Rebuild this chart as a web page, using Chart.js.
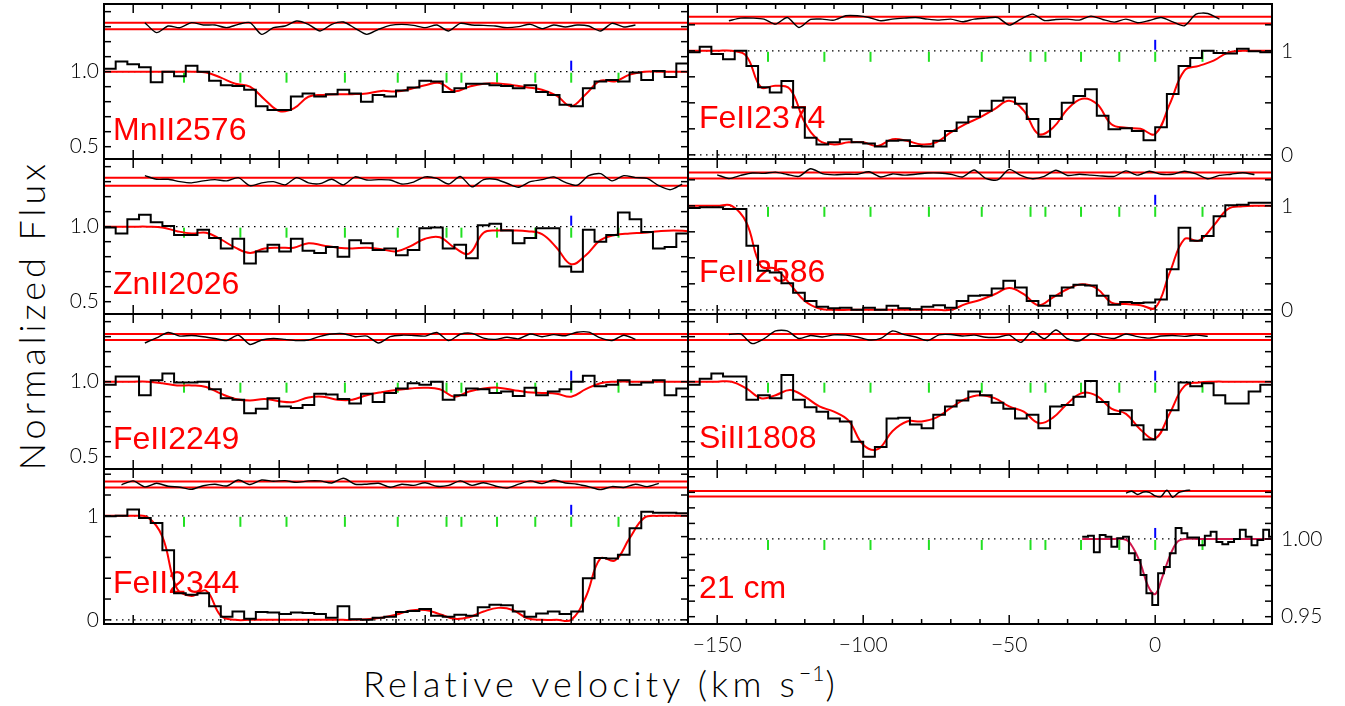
<!DOCTYPE html>
<html>
<head>
<meta charset="utf-8">
<script src="https://cdn.jsdelivr.net/npm/chart.js@4.4.1/dist/chart.umd.min.js"></script>
<style>
  body { margin: 0; background: #fff; width: 1345px; height: 706px; overflow: hidden; position: relative; }
  canvas { position: absolute; }
  .title { position: absolute; font-family: Lato, "DejaVu Sans", sans-serif; font-weight: 300; color: #000; white-space: nowrap; }
  #ytitle { left: 31px; top: 315px; font-size: 36px; letter-spacing: 4px; transform: translate(-50%, -50%) rotate(-90deg); }
  #xtitle { left: 601px; top: 660px; font-size: 36px; letter-spacing: 4.2px; transform: translateX(-50%); }
  #xtitle sup { font-size: 21px; vertical-align: 0.75em; letter-spacing: 1px; }
</style>
</head>
<body>
<div class="title" id="ytitle">Normalized Flux</div>
<div class="title" id="xtitle">Relative velocity (km s<sup>&minus;1</sup>)</div>
<script>
// velocity grids (km/s)
const velBins = [-158,-154,-150,-146,-142,-138,-134,-130,-126,-122,-118,-114,-110,-106,-102,-98,-94,-90,-86,-82,
  -78,-74,-70,-66,-62,-58,-54,-50,-46,-42,-38,-34,-30,-26,-22,-18,-14,-10,-6,-2,2,6,10,14,18,22,26,30,34,38];
const velModel = [-160,-155,-150,-145,-140,-135,-130,-125,-120,-115,-110,-105,-100,-95,-90,-85,-80,-75,-70,-65,
  -60,-55,-50,-45,-40,-35,-30,-25,-20,-15,-10,-5,0,5,10,15,20,25,30,35,40];
const vel21 = [-24,-22,-20,-18,-16,-14,-12,-10,-8,-6,-4,-2,0,2,4,6,8,10,12,14,16,18,20,22,24,26,28,30,32,34,36,38,40];
const velModel21 = [-25,-20,-15,-10,-7.5,-5,-2.5,0,2.5,5,7.5,10,15,20,25,30,35,40];

// component positions (green) and reference velocity (blue)
const compVel = [-132.6,-113.3,-97.5,-77.5,-59.4,-42.7,-37.6,-25.4,-12.3,0,16.2];
const refVel = [0];

// MnII2576
const fluxMn = [1.02,1.067,1.05,1.03,0.93,1.0,0.97,1.04,1.0,0.94, 0.91,0.905,0.88,0.77,0.745,0.745,0.835,0.855,0.835,0.85,
  0.88,0.855,0.8,0.845,0.835,0.875,0.895,0.94,0.935,0.865, 0.89,0.92,0.92,0.91,0.905,0.89,0.91,0.865,0.845,0.78,
  0.77,0.89,0.935,0.945,0.935,0.995,0.945,1.005,0.965,1.055];
const modelMn = [1,1,1,1,1,1,1,0.995,0.96,0.92, 0.9,0.815,0.738,0.755,0.833,0.845,0.85,0.85,0.855,0.872,
  0.868,0.885,0.91,0.925,0.87,0.9,0.92,0.922,0.91,0.895, 0.88,0.84,0.77,0.85,0.94,0.935,0.98,1,1,1,1];
const residMn = [null,null,null,1.0,-2.0,0,-0.5,1.0,0.3,0.3, -0.5,0.5,1.0,-2.5,-0.5,0,1.5,0.5,-1.5,0.5,
  1.2,-0.7,-2.5,-1.0,0.2,0.5,0.2,-0.5,0.3,-1.5, 0.8,0.3,0.2,0,-0.5,-0.2,0.5,-0.8,0.3,-0.3,
  0.3,0,-1.5,0.8,-0.3,0.3,null,null,null,null];

// ZnII2026
const fluxZn = [0.995,0.955,1.05,1.08,1.03,1.005,0.945,0.945,0.98,0.925, 0.855,0.92,0.755,0.835,0.88,0.835,0.92,0.84,0.825,0.865,
  0.8,0.91,0.89,0.845,0.855,0.81,0.845,0.99,0.995,0.855, 0.88,0.79,1.01,1.02,0.975,0.89,0.925,0.99,0.99,0.735,
  0.7,0.98,0.9,0.945,1.095,1.05,0.965,0.855,0.865,0.955];
const modelZn = [1,1,1,1,0.995,0.97,0.955,0.96,0.915,0.86, 0.825,0.855,0.86,0.86,0.89,0.875,0.86,0.855,0.86,0.85,
  0.835,0.87,0.92,0.93,0.86,0.82,0.96,0.975,0.975,0.97, 0.95,0.86,0.75,0.81,0.91,0.945,0.955,0.96,0.97,0.975,0.97];
const residZn = [null,null,null,1.5,0.6,0.6,0,-0.3,0.2,0.5, 0.2,1.0,-1.0,-0.3,0,-0.8,1.0,-0.3,-0.5,0.6,
  -0.8,1.2,0.4,0.5,0.4,-0.6,-0.1,1.2,0.8,-0.6, 1.3,-1.3,0.5,0.6,-0.4,-1.4,0,0.5,1.2,-0.2,
  -0.9,1.5,2.0,0.2,1.5,1.0,0.8,-1.0,-2.0,-0.6];

// FeII2249
const fluxFe2249 = [0.98,1.035,1.035,0.91,1.01,1.055,0.995,0.995,1.0,0.95, 0.89,0.88,0.79,0.82,0.89,0.835,0.825,0.845,0.92,0.915,
  0.885,0.855,0.92,0.865,0.925,0.955,0.99,0.98,1.0,0.88, 0.91,0.955,0.95,0.925,0.935,0.905,0.96,0.91,0.935,0.95,
  1.0,1.04,0.97,0.98,1.01,0.98,0.995,1.01,0.91,0.955];
const modelFe2249 = [1,1,1,1,0.99,0.975,0.975,0.965,0.92,0.885, 0.875,0.885,0.87,0.865,0.895,0.9,0.88,0.88,0.91,0.93,
  0.945,0.955,0.96,0.95,0.9,0.935,0.955,0.96,0.945,0.93, 0.925,0.92,0.9,0.95,0.99,1,1,1,1,1,1];
const residFe2249 = [null,null,null,-2.0,-0.3,1.5,0.3,0.5,0.1,-0.5, -1.2,0.6,-2.5,-1.0,-0.5,-0.8,-1.2,-1.0,0.2,1.0,
  1.1,0.1,0.3,-2.0,0.1,0.6,0.5,0.3,1.5,-1.2, 0.9,1.2,-0.4,-0.8,-0.1,-0.6,1.0,0.1,0.8,0.4,
  1.6,1.6,-0.3,-1.2,0.6,-0.8,null,null,null,null];

// FeII2344
const fluxFe2344 = [0.995,1.0,1.06,0.98,0.93,0.67,0.255,0.24,0.255,0.13, 0.03,0.08,0.01,0.075,0.07,0.055,0.07,0.065,0.055,0.02,
  0.13,0.005,0.0,0.02,0.03,0.075,0.085,0.105,0.04,0.03, 0.05,0.04,0.12,0.145,0.14,0.08,0.03,0.06,0.08,0.055,
  0.08,0.4,0.595,0.59,0.625,0.88,1.04,1.03,1.03,1.025];
const modelFe2344 = [1,1,1,0.985,0.8,0.3,0.23,0.28,0.04,0, 0,0,0,0,0,0,0,0,0.005,0.02,
  0.05,0.09,0.095,0.055,0.01,0.025,0.08,0.115,0.095,0.015, 0,0,0,0.22,0.59,0.57,0.785,0.98,1,1,1];
const residFe2344 = [null,-0.1,1.2,-0.8,0.4,-0.6,-0.9,-1.6,-0.4,0.1, -0.5,1.5,0,1.5,1.1,1.3,0.7,1.2,1.2,0.5,
  2.1,0.1,0.1,0.4,-0.9,0.1,-0.3,0.6,-0.6,-0.3, 1.2,-0.3,0.6,-0.5,-1.2,0.1,1.2,0.3,1.5,0.5,
  0.1,-0.7,-1.7,-0.7,-1.0,0.1,-0.7,0.4,null,null];

// FeII2374
const fluxFe2374 = [0.985,1.04,0.97,0.92,1.0,0.855,0.65,0.6,0.71,0.455, 0.165,0.1,0.12,0.15,0.12,0.11,0.08,0.135,0.14,0.085,
  0.08,0.135,0.23,0.31,0.365,0.425,0.52,0.55,0.49,0.345, 0.175,0.345,0.5,0.565,0.63,0.375,0.245,0.255,0.23,0.14,
  0.265,0.585,0.855,0.93,1.0,0.98,0.975,1.02,0.995,0.985];
const modelFe2374 = [1,1,1,1,0.95,0.65,0.665,0.63,0.31,0.135, 0.1,0.12,0.12,0.085,0.15,0.135,0.1,0.12,0.215,0.295,
  0.36,0.44,0.52,0.425,0.2,0.26,0.44,0.54,0.49,0.295, 0.26,0.25,0.2,0.49,0.81,0.855,0.905,0.985,1,1,1];
const residFe2374 = [null,null,null,-0.2,0.6,0.6,0.3,-1.2,0.8,-2.2, 0.2,0.3,0,1.3,1.3,0.8,-0.2,0.3,0.6,0.8,
  0.3,0,0.3,-0.5,0.3,0.6,0.8,-1.5,0.3,1.8, -0.1,0.2,0.3,0,1.2,0.2,-0.6,0.3,-0.8,-0.1,
  0.8,-0.5,-1.7,1.8,2.0,0.3,null,null,null,null];

// FeII2586
const fluxFe2586 = [0.98,0.985,0.985,0.97,0.97,0.615,0.375,0.36,0.255,0.165, 0.085,0.03,0.015,0.02,0.0,0.02,0.0,0.04,0.015,0.005,
  0.03,0.045,0.02,0.085,0.135,0.14,0.205,0.28,0.215,0.085, 0.04,0.135,0.215,0.24,0.235,0.135,0.05,0.075,0.065,0.07,
  0.1,0.39,0.79,0.665,0.71,0.9,1.005,1.01,1.03,1.03];
const modelFe2586 = [1,1,1,1,0.84,0.42,0.395,0.245,0.085,0.013, 0,0,0,0,0,0,0,0,0,0.055,
  0.095,0.15,0.21,0.15,0.045,0.12,0.2,0.245,0.205,0.07, 0.055,0.045,0.02,0.36,0.68,0.665,0.81,0.97,0.995,1,1];
const residFe2586 = [null,null,0.2,-1.0,0,0.8,0.7,1.1,0.3,-0.3, 2.2,0.6,0.2,0.4,0.4,1.2,-0.5,0.5,0.1,0.4,
  0.8,0.8,0.4,-0.5,1.8,-1.0,-1.5,2.0,0,-1.1, -0.3,1.7,0,0.4,0.1,-0.2,-0.3,1.5,0.1,1.4,
  0.4,0.4,1.4,0.5,-1.1,0,0.4,0.9,0.3,null];

// SiII1808
const fluxSi = [0.98,1.02,1.055,1.035,1.035,0.88,0.91,0.89,1.045,0.88, 0.83,0.8,0.755,0.735,0.6,0.5,0.565,0.755,0.76,0.715,
  0.69,0.78,0.835,0.875,0.935,0.91,0.86,0.82,0.755,0.78, 0.69,0.835,0.845,0.9,1.005,0.865,0.785,0.81,0.71,0.615,
  0.68,0.81,0.995,0.97,0.99,0.91,0.855,0.855,0.935,0.98];
const modelSi = [1,1,1,1,0.955,0.89,0.91,0.945,0.9,0.835, 0.8,0.74,0.58,0.55,0.67,0.735,0.735,0.76,0.825,0.885,
  0.91,0.89,0.835,0.8,0.725,0.76,0.855,0.925,0.905,0.82, 0.785,0.68,0.62,0.79,0.97,0.995,1,1,1,1,1];
const residSi = [null,null,null,0.8,1.0,-2.2,-0.6,2.0,2.0,-0.5, 0.5,0,0.7,0.6,0,-1.0,-0.5,2.0,0.8,0,
  -1.2,0.7,0.8,0.3,0.6,-0.1,-0.1,0.6,-1.8,1.8, -0.6,2.3,-0.6,-1.3,1.0,0,-0.5,1.0,0.1,-0.4,
  0.3,0.5,0.2,0.6,0.2,null,null,null,null,null];

// 21 cm
const flux21 = [1.0015,1.002,0.9914,1.0026,1.0015,0.995,1.0004,1.0015,0.9908,0.9865,0.9768,0.965,0.9575,0.978,0.982,0.9908,
  1.007,1.0036,1.001,1.001,0.996,1.002,1.0047,0.998,0.9966,0.998,1.0,1.006,1.0015,0.996,0.9994,1.006,1.0015];
const model21 = [1,1,1,0.9995,0.994,0.984,0.97,0.9645,0.976,0.989,0.998,1,1,1,1,1,1,1];
const resid21 = [null,null,null,null,null,null,null,0.2,0.9,-0.3,0.6,0.5,-0.8,-1.0,1.3,-1.3,0.4,1.0,1.3,
  null,null,null,null,null,null,null,null,null,null,null,null,null,null];

// tick labels
const xTickVals = [-150,-100,-50,0];
const xTickText = ['\u2212150','\u2212100','\u221250','0'];
const yTickA = [1.0, 0.5], yTextA = ['1.0','0.5'];
const yTickB = [1, 0], yTextB = ['1','0'];
const yTick21 = [1.00, 0.95], yText21 = ['1.00','0.95'];

// layout
const colLeft = [104, 688];
const rowTop = [4, 159, 314, 469];
const panelW = 584, panelH = 155;
const PAD = {left: 70, right: 70, top: 12, bottom: 48};
const rangeA = [0.418, 1.451], rangeB = [-0.04, 1.45], range21 = [0.9453, 1.045];

const panels = [
  {name:'MnII2576', col:0, row:0, v:velBins, flux:fluxMn, vm:velModel, model:modelMn, resid:residMn,
   yr:rangeA, step:0.1, left:[yTickA,yTextA], right:null, zero:false, res:[1.3044,0.0222], labelDy:136},
  {name:'ZnII2026', col:0, row:1, v:velBins, flux:fluxZn, vm:velModel, model:modelZn, resid:residZn,
   yr:rangeA, step:0.1, left:[yTickA,yTextA], right:null, zero:false, res:[1.30,0.0267], labelDy:135},
  {name:'FeII2249', col:0, row:2, v:velBins, flux:fluxFe2249, vm:velModel, model:modelFe2249, resid:residFe2249,
   yr:rangeA, step:0.1, left:[yTickA,yTextA], right:null, zero:false, res:[1.2978,0.02], labelDy:135},
  {name:'FeII2344', col:0, row:3, v:velBins, flux:fluxFe2344, vm:velModel, model:modelFe2344, resid:residFe2344,
   yr:rangeB, step:0.2, left:[yTickB,yTextB], right:null, zero:true, res:[1.301,0.0288], labelDy:124},
  {name:'FeII2374', col:1, row:0, v:velBins, flux:fluxFe2374, vm:velModel, model:modelFe2374, resid:residFe2374,
   yr:rangeB, step:0.25, left:null, right:[yTickB,yTextB], zero:true, res:[1.295,0.032], labelDy:124},
  {name:'FeII2586', col:1, row:1, v:velBins, flux:fluxFe2586, vm:velModel, model:modelFe2586, resid:residFe2586,
   yr:rangeB, step:0.25, left:null, right:[yTickB,yTextB], zero:true, res:[1.292,0.029], labelDy:123},
  {name:'SiII1808', col:1, row:2, v:velBins, flux:fluxSi, vm:velModel, model:modelSi, resid:residSi,
   yr:rangeA, step:0.1, left:null, right:null, zero:false, res:[1.298,0.02], labelDy:134},
  {name:'21 cm', col:1, row:3, v:vel21, flux:flux21, vm:velModel21, model:model21, resid:resid21,
   yr:range21, step:0.01, left:null, right:[yTick21,yText21], zero:false, res:[1.0291,0.0018], labelDy:129,
   xlabels:true, modelColor:'#d0184c'}
];

const tickFont = '300 21px Lato, "DejaVu Sans", sans-serif';
const nameFont = '32px "Liberation Sans", Arial, sans-serif';

function histPoints(v, f) {
  const pts = v.map((x, i) => ({x: x, y: f[i]}));
  const h = (v[1] - v[0]) / 2;
  pts.unshift({x: v[0] - h, y: f[0]});
  pts.push({x: v[v.length - 1] + h, y: f[f.length - 1]});
  return pts;
}

function seg(ctx, x1, y1, x2, y2) {
  ctx.beginPath(); ctx.moveTo(x1, y1); ctx.lineTo(x2, y2); ctx.stroke();
}

function panelPlugin(p) {
  return {
    id: 'panel',
    beforeDatasetsDraw(chart) {
      const ctx = chart.ctx, a = chart.chartArea, x = chart.scales.x, y = chart.scales.y;
      ctx.save();
      // label
      ctx.fillStyle = '#ff0000';
      ctx.font = nameFont;
      ctx.textBaseline = 'alphabetic';
      ctx.textAlign = 'left';
      ctx.fillText(p.name, a.left + (p.col ? 11 : 9), a.top + p.labelDy);
      // dotted continuum / zero
      ctx.strokeStyle = '#000';
      ctx.lineWidth = 1.3;
      ctx.setLineDash([1.5, 4.5]);
      const levels = p.zero ? [1, 0] : [1];
      levels.forEach(l => { const py = y.getPixelForValue(l); seg(ctx, a.left, py, a.right, py); });
      ctx.setLineDash([]);
      // residual band
      ctx.strokeStyle = '#ff0000';
      ctx.lineWidth = 2;
      [p.res[0] - p.res[1], p.res[0] + p.res[1]].forEach(l => {
        const py = y.getPixelForValue(l); seg(ctx, a.left, py, a.right, py);
      });
      // component marks
      const py1 = y.getPixelForValue(1);
      ctx.strokeStyle = '#22e022';
      ctx.lineWidth = 2;
      compVel.forEach(v => { const px = x.getPixelForValue(v); seg(ctx, px, py1 + 1, px, py1 + 11); });
      ctx.strokeStyle = '#0000ff';
      refVel.forEach(v => { const px = x.getPixelForValue(v); seg(ctx, px, py1 - 11, px, py1 - 1); });
      ctx.restore();
    },
    afterDatasetsDraw(chart) {
      const ctx = chart.ctx, a = chart.chartArea, x = chart.scales.x, y = chart.scales.y;
      ctx.save();
      ctx.strokeStyle = '#000';
      ctx.lineWidth = 2;
      ctx.strokeRect(a.left, a.top, a.right - a.left, a.bottom - a.top);
      ctx.lineWidth = 1.5;
      // x ticks, every 10 km/s, longer every 50
      for (let v = -150; v <= 30; v += 10) {
        const px = x.getPixelForValue(v);
        const len = (v % 50 === 0) ? 9 : 5;
        seg(ctx, px, a.top, px, a.top + len);
        seg(ctx, px, a.bottom, px, a.bottom - len);
      }
      // y ticks
      const n0 = Math.ceil(p.yr[0] / p.step - 1e-6), n1 = Math.floor(p.yr[1] / p.step + 1e-6);
      for (let n = n0; n <= n1; n++) {
        const py = y.getPixelForValue(n * p.step);
        seg(ctx, a.left, py, a.left + 7, py);
        seg(ctx, a.right, py, a.right - 7, py);
      }
      // tick labels
      ctx.fillStyle = '#000';
      ctx.font = tickFont;
      ctx.textBaseline = 'middle';
      if (p.left) {
        ctx.textAlign = 'right';
        p.left[0].forEach((v, i) => ctx.fillText(p.left[1][i], a.left - 5, y.getPixelForValue(v)));
      }
      if (p.right) {
        ctx.textAlign = 'left';
        p.right[0].forEach((v, i) => ctx.fillText(p.right[1][i], a.right + 9, y.getPixelForValue(v)));
      }
      if (p.xlabels) {
        ctx.textAlign = 'center';
        ctx.textBaseline = 'top';
        xTickVals.forEach((v, i) => ctx.fillText(xTickText[i], x.getPixelForValue(v), a.bottom + 11));
      }
      ctx.restore();
    }
  };
}

panels.forEach(p => {
  const cv = document.createElement('canvas');
  const w = panelW + PAD.left + PAD.right, h = panelH + PAD.top + PAD.bottom;
  cv.width = w; cv.height = h;
  cv.style.left = (colLeft[p.col] - PAD.left) + 'px';
  cv.style.top = (rowTop[p.row] - PAD.top) + 'px';
  cv.style.width = w + 'px'; cv.style.height = h + 'px';
  document.body.appendChild(cv);

  const residPts = p.v.map((v, i) => ({x: v, y: p.resid[i] === null ? null : p.res[0] + p.resid[i] * p.res[1]}));

  new Chart(cv.getContext('2d'), {
    type: 'line',
    data: {
      datasets: [
        {data: histPoints(p.v, p.flux), borderColor: '#000', borderWidth: 2, stepped: 'middle', pointRadius: 0, clip: 0},
        {data: p.vm.map((v, i) => ({x: v, y: p.model[i]})), borderColor: p.modelColor || '#ff0000',
         borderWidth: 2, tension: 0.4, pointRadius: 0, clip: 0},
        {data: residPts, borderColor: '#000', borderWidth: 1.4, tension: 0.25, pointRadius: 0, spanGaps: false, clip: 0}
      ]
    },
    options: {
      responsive: false,
      animation: false,
      devicePixelRatio: 1,
      events: [],
      layout: {padding: PAD},
      scales: {
        x: {type: 'linear', min: -160, max: 40, display: false},
        y: {type: 'linear', min: p.yr[0], max: p.yr[1], display: false}
      },
      plugins: {legend: {display: false}, tooltip: {enabled: false}}
    },
    plugins: [panelPlugin(p)]
  });
});
</script>
</body>
</html>
